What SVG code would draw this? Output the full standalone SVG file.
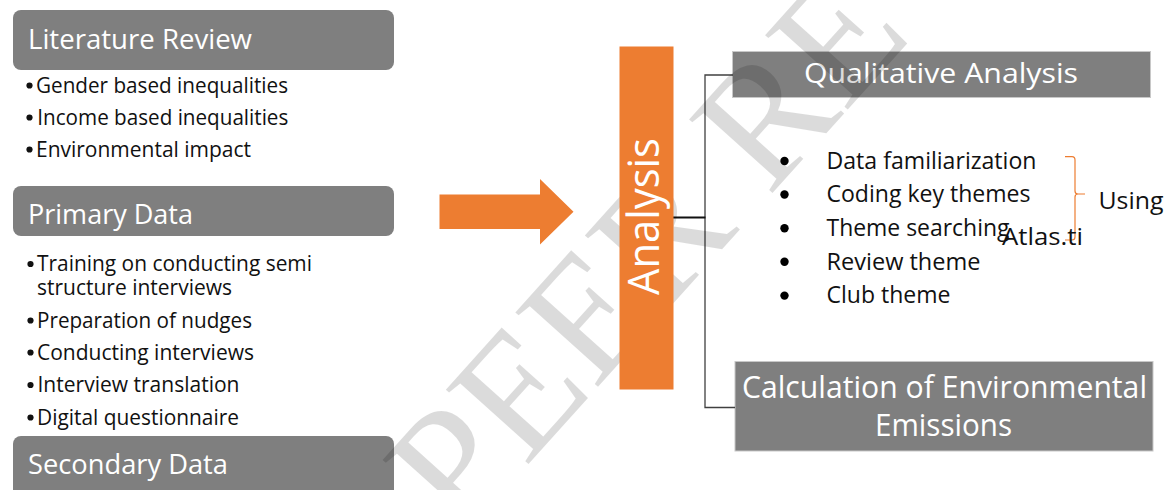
<svg xmlns="http://www.w3.org/2000/svg" width="1173" height="490" viewBox="0 0 1173 490">
  <style>
    .hdr { fill: #7f7f7f; }
    .hdr-t { font-family: "Open Sans", "Liberation Sans", sans-serif; font-size: 28px; fill: #ffffff; }
    .item { font-family: "Open Sans", "Liberation Sans", sans-serif; font-size: 21px; fill: #111111; }
    .dot { fill: #111111; }
    .qitem { font-family: "Open Sans", "Liberation Sans", sans-serif; font-size: 23.5px; fill: #111111; }
    .box { fill: #7f7f7f; stroke: #c8c8c8; stroke-width: 1; }
    .box-t { font-family: "Open Sans", "Liberation Sans", sans-serif; fill: #ffffff; }
    .orange { fill: #ed7d31; }
    .conn { fill: none; stroke: #404040; stroke-width: 1.3; }
    .mark { font-family: "Liberation Serif", "DejaVu Serif", serif; font-size: 170px; fill: #000000; fill-opacity: 0.14; }
  </style>

  <rect width="1173" height="490" fill="#ffffff"/>

  <!-- Literature review column -->
  <g id="literature-review">
    <rect class="hdr" x="13" y="10" width="381" height="60" rx="8"/>
    <text class="hdr-t" x="28" y="48.5" textLength="224" lengthAdjust="spacingAndGlyphs">Literature Review</text>
    <circle class="dot" cx="29.5" cy="85.5" r="3.1"/>
    <circle class="dot" cx="29.5" cy="117.5" r="3.1"/>
    <circle class="dot" cx="29.5" cy="149.5" r="3.1"/>
    <text class="item" x="36" y="92.5" textLength="252" lengthAdjust="spacingAndGlyphs">Gender based inequalities</text>
    <text class="item" x="37.3" y="124.5" textLength="251" lengthAdjust="spacingAndGlyphs">Income based inequalities</text>
    <text class="item" x="36" y="156.5" textLength="215" lengthAdjust="spacingAndGlyphs">Environmental impact</text>
  </g>

  <g id="primary-data">
    <rect class="hdr" x="13" y="186" width="381" height="50" rx="8"/>
    <text class="hdr-t" x="28" y="224" textLength="165" lengthAdjust="spacingAndGlyphs">Primary Data</text>
    <circle class="dot" cx="30.5" cy="264" r="3.1"/>
    <circle class="dot" cx="30.5" cy="320.5" r="3.1"/>
    <circle class="dot" cx="30.5" cy="352.5" r="3.1"/>
    <circle class="dot" cx="30.5" cy="385" r="3.1"/>
    <circle class="dot" cx="30.5" cy="417.5" r="3.1"/>
    <text class="item" x="37" y="271" textLength="275" lengthAdjust="spacingAndGlyphs">Training on conducting semi</text>
    <text class="item" x="37" y="295" textLength="195" lengthAdjust="spacingAndGlyphs">structure interviews</text>
    <text class="item" x="37" y="327.5" textLength="215" lengthAdjust="spacingAndGlyphs">Preparation of nudges</text>
    <text class="item" x="37" y="359.5" textLength="217" lengthAdjust="spacingAndGlyphs">Conducting interviews</text>
    <text class="item" x="37.5" y="392" textLength="202" lengthAdjust="spacingAndGlyphs">Interview translation</text>
    <text class="item" x="37" y="424.5" textLength="202" lengthAdjust="spacingAndGlyphs">Digital questionnaire</text>
  </g>

  <g id="secondary-data">
    <rect class="hdr" x="13" y="436" width="381" height="62" rx="8"/>
    <text class="hdr-t" x="28" y="474" textLength="200" lengthAdjust="spacingAndGlyphs">Secondary Data</text>
  </g>

  <!-- Analysis branches -->
  <g id="qualitative-analysis">
    <rect class="box" x="732.5" y="51.5" width="418" height="46"/>
    <text class="box-t" x="804" y="83" font-size="28" textLength="274" lengthAdjust="spacingAndGlyphs">Qualitative Analysis</text>
  </g>

  <g id="qualitative-steps">
    <circle cx="784.5" cy="161" r="4.2" fill="#000"/>
    <circle cx="784.5" cy="194.5" r="4.2" fill="#000"/>
    <circle cx="784.5" cy="228.3" r="4.2" fill="#000"/>
    <circle cx="784.5" cy="261.8" r="4.2" fill="#000"/>
    <circle cx="784.5" cy="295.6" r="4.2" fill="#000"/>
    <text class="qitem" x="826.5" y="168.5" textLength="210" lengthAdjust="spacingAndGlyphs">Data familiarization</text>
    <text class="qitem" x="826.5" y="202" textLength="204" lengthAdjust="spacingAndGlyphs">Coding key themes</text>
    <text class="qitem" x="826.5" y="236" textLength="183" lengthAdjust="spacingAndGlyphs">Theme searching</text>
    <text class="qitem" x="826.5" y="269.5" textLength="154" lengthAdjust="spacingAndGlyphs">Review theme</text>
    <text class="qitem" x="826.5" y="303" textLength="124" lengthAdjust="spacingAndGlyphs">Club theme</text>
  </g>

  <g id="atlas-note">
    <path d="M1065,156.7 H1072 Q1075,156.7 1075,160 V191 Q1075,194 1078,194 H1085 M1078,194 Q1075,194 1075,197 V237 Q1075,240 1072,240 H1065" fill="none" stroke="#ed7d31" stroke-width="1.2"/>
    <text class="qitem" x="1098.5" y="208.5" textLength="65" lengthAdjust="spacingAndGlyphs">Using</text>
    <text class="qitem" x="1002" y="244.5" textLength="81" lengthAdjust="spacingAndGlyphs">Atlas.ti</text>
  </g>

  <g id="environmental-emissions">
    <rect class="box" x="735" y="361.5" width="418" height="89.5"/>
    <text class="box-t" x="742" y="397.5" font-size="31" textLength="405" lengthAdjust="spacingAndGlyphs">Calculation of Environmental</text>
    <text class="box-t" x="875" y="435.5" font-size="31" textLength="137" lengthAdjust="spacingAndGlyphs">Emissions</text>
  </g>

  <!-- Connectors from the analysis bar to its branches -->
  <g id="connectors">
    <path class="conn" d="M733,75 H705 V407.5 H735"/>
    <path d="M673,217.5 H705.5" fill="none" stroke="#111" stroke-width="2"/>
  </g>

  <!-- Diagonal review watermark -->
  <text class="mark" transform="translate(462,538) rotate(-48)">PEER REVIEW</text>

  <!-- Flow arrow and analysis bar -->
  <g id="flow-arrow">
    <polygon class="orange" points="439.5,194.5 540,194.5 540,179 573.5,211.7 540,244.5 540,229 439.5,229"/>
  </g>

  <g id="analysis">
    <rect class="orange" x="619.5" y="46.5" width="54" height="343"/>
    <text transform="translate(659,216.5) rotate(-90)" font-family="Open Sans, Liberation Sans, sans-serif" font-size="43" fill="#ffffff" text-anchor="middle" textLength="157" lengthAdjust="spacingAndGlyphs">Analysis</text>
  </g>
</svg>
